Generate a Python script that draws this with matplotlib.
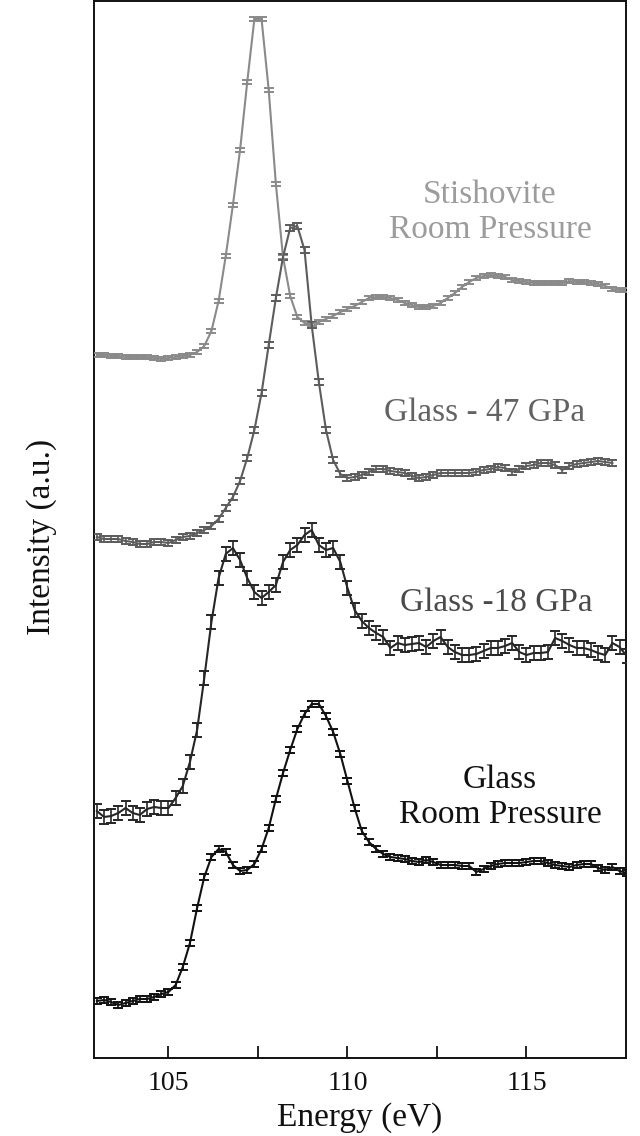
import numpy as np
import matplotlib
matplotlib.use("Agg")
import matplotlib.pyplot as plt
from matplotlib.ticker import FixedLocator, NullFormatter

# ---------------- data (intensity in arbitrary units, curves offset vertically) ----------------
energy = [103.0, 103.2, 103.4, 103.6, 103.8, 104.0, 104.2, 104.4, 104.6, 104.8,
          105.0, 105.2, 105.4, 105.6, 105.8, 106.0, 106.2, 106.4, 106.6, 106.8,
          107.0, 107.2, 107.4, 107.6, 107.8, 108.0, 108.2, 108.4, 108.6, 108.8,
          109.0, 109.2, 109.4, 109.6, 109.8, 110.0, 110.2, 110.4, 110.6, 110.8,
          111.0, 111.2, 111.4, 111.6, 111.8, 112.0, 112.2, 112.4, 112.6, 112.8,
          113.0, 113.2, 113.4, 113.6, 113.8, 114.0, 114.2, 114.4, 114.6, 114.8,
          115.0, 115.2, 115.4, 115.6, 115.8, 116.0, 116.2, 116.4, 116.6, 116.8,
          117.0, 117.2, 117.4, 117.6, 117.8]

stishovite_rp = [703, 703, 702, 702, 701, 701, 701, 701, 700, 699,
                 700, 701, 702, 703, 706, 712, 727, 757, 802, 853,
                 908, 976, 1039, 1039, 968, 874, 801, 762, 741, 735,
                 734, 736, 739, 742, 746, 749, 752, 756, 760, 761,
                 761, 760, 758, 755, 753, 751, 751, 752, 755, 760,
                 765, 771, 776, 780, 782, 783, 782, 781, 778, 777,
                 776, 775, 775, 775, 775, 775, 777, 776, 776, 775,
                 774, 772, 769, 768, 768]

glass_47 = [521, 519, 519, 519, 517, 516, 514, 514, 516, 516,
            515, 518, 521, 522, 525, 528, 532, 539, 550, 561,
            577, 600, 628, 665, 713, 760, 801, 830, 832, 808,
            733, 676, 628, 598, 584, 580, 581, 583, 586, 589,
            589, 587, 586, 585, 582, 580, 581, 583, 585, 585,
            585, 585, 585, 586, 588, 589, 591, 590, 586, 589,
            592, 593, 595, 595, 593, 588, 592, 594, 595, 596,
            597, 596, 595]

glass_18 = [247, 241, 242, 245, 250, 245, 243, 249, 251, 250,
            250, 260, 272, 296, 328, 380, 436, 480, 504, 510,
            498, 480, 466, 460, 466, 473, 496, 508, 513, 523,
            528, 513, 508, 510, 496, 470, 448, 437, 430, 425,
            421, 410, 415, 413, 414, 415, 411, 417, 421, 411,
            406, 403, 403, 404, 407, 410, 410, 412, 415, 406,
            403, 405, 405, 406, 420, 417, 413, 410, 410, 408,
            405, 403, 415, 411, 402]

glass_rp = [57, 58, 56, 53, 55, 57, 59, 59, 61, 64,
            66, 73, 91, 115, 150, 181, 201, 209, 206, 193,
            187, 188, 194, 209, 230, 259, 285, 308, 329, 344,
            354, 354, 342, 326, 304, 277, 250, 227, 216, 209,
            204, 201, 200, 199, 197, 196, 198, 196, 193, 193,
            193, 192, 192, 186, 189, 192, 194, 195, 195, 195,
            196, 197, 197, 195, 193, 192, 191, 193, 194, 194,
            190, 188, 191, 187, 185]

series_labels = ["Stishovite\nRoom Pressure", "Glass - 47 GPa", "Glass -18 GPa", "Glass\nRoom Pressure"]
series_errors = [2.0, 3.0, 7.0, 3.0]

# ---------------- style / layout ----------------
line_colors = ["#8a8a8a", "#5c5c5c", "#262626", "#111111"]
text_colors = ["#9c9c9c", "#636363", "#4a4a4a", "#111111"]
label_pos = [(113.98, 846), (113.84, 645), (114.15, 455), (114.26, 261)]

plt.rcParams['font.family'] = ['Liberation Serif', 'DejaVu Serif']

fig = plt.figure(figsize=(6.4, 11.36), dpi=100)
ax = fig.add_axes([94 / 640, 1 - 1058 / 1136, 532 / 640, 1057 / 1136])

all_series = [stishovite_rp, glass_47, glass_18, glass_rp]
for vals, err, lc in zip(all_series, series_errors, line_colors):
    x = np.array(energy[:len(vals)])
    y = np.array(vals, dtype=float)
    ax.errorbar(x, y, yerr=err, color=lc, ecolor=lc, lw=1.5, elinewidth=1.2,
                capsize=3.6, capthick=1.4, zorder=3)

for lab, (tx, ty), tc in zip(series_labels, label_pos, text_colors):
    ax.text(tx, ty, lab, color=tc, fontsize=24, ha='center', va='center',
            linespacing=1.2, zorder=4)

ax.set_xlim(102.92, 117.78)
ax.set_ylim(0, 1057)
ax.set_yticks([])

ax.xaxis.set_major_locator(FixedLocator([105, 110, 115]))
ax.xaxis.set_minor_locator(FixedLocator([107.5, 112.5]))
ax.xaxis.set_minor_formatter(NullFormatter())
ax.tick_params(axis='x', which='both', direction='in', length=9, width=1.3,
               top=False, labelsize=20, pad=9, colors='#111111')

for sp in ax.spines.values():
    sp.set_linewidth(1.4)
    sp.set_color('#111111')

ax.set_xlabel("Energy (eV)", fontsize=24, color='#111111')
ax.set_ylabel("Intensity (a.u.)", fontsize=24, color='#111111')
ax.xaxis.set_label_coords(0.5, -0.042)
ax.yaxis.set_label_coords(-0.07, 0.493)

fig.savefig("out.png", dpi=100)
